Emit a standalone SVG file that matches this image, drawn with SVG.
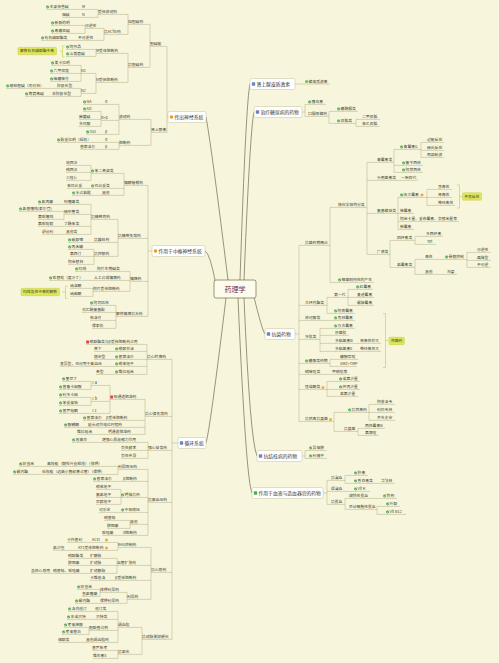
<svg xmlns="http://www.w3.org/2000/svg" width="499" height="663" viewBox="0 0 499 663">
<style>
.t{font-family:"Noto Sans CJK SC","Noto Sans",sans-serif;font-size:3.8px;fill:#3d3d2e}
.m{font-family:"Noto Sans CJK SC","Noto Sans",sans-serif;font-size:4.8px;fill:#333}
.ct{font-family:"Noto Sans CJK SC","Noto Sans",sans-serif;font-size:7px;fill:#6a2c5e}
.c{fill:none;stroke:#a9a37c;stroke-width:0.45}
.mc{fill:none;stroke:#6e6a4e;stroke-width:0.7}
.box{fill:#fff;stroke:#c4bf9f;stroke-width:0.5}
.sum{fill:#dfe85a;stroke:#b9c23a;stroke-width:0.4}
.br{fill:none;stroke:#c5cc3c;stroke-width:0.6}
</style>
<defs>
<g id="ck"><circle r="1.45" fill="#46a84f"/><path d="M-0.75 0 L-0.2 0.55 L0.75 -0.55" fill="none" stroke="#fff" stroke-width="0.45"/></g>
<rect id="rd" x="-1.4" y="-1.4" width="2.8" height="2.8" rx="0.5" fill="#e0453a"/>
<rect id="om" x="-1.3" y="-1.3" width="2.6" height="2.6" rx="0.5" fill="#f0a830"/>
<rect id="bq" x="-1.7" y="-1.7" width="3.4" height="3.4" rx="0.6" fill="#6d83c8"/>
<circle id="oc" r="1.8" fill="#f39c12"/>
</defs>
<rect width="499" height="663" fill="#f7f6dc"/>

<g id="connectors">
<path class="mc" d="M228 280 Q212 150 206 117 M216 285 Q210 253 205 251 M226 298 Q210 430 206 443 M240 280 Q246 100 250 84 M244 280 Q250 130 254 112 M254 297 Q262 330 265 334 M244 298 Q250 440 257 456 M238 298 Q246 480 252 493"/>
<!-- section 1 -->
<path class="c" d="M167 46.4 V132.4 M150 46.4 H167 M151 132.4 H167 M167 117 H168"/>
<path class="c" d="M150 24.4 V67.4 M128 24.4 H150 M128 67.4 H150"/>
<path class="c" d="M128 14.4 V34.4 M98 14.4 H128 M104 34.4 H128"/>
<path class="c" d="M98 9.4 V17.4 M82 9.4 H98 M82 17.4 H98 M46 9.4 H82 M62 17.4 H82"/>
<path class="c" d="M104 28.4 V40.4 M85 28.4 H104 M78 40.4 H104"/>
<path class="c" d="M85 25.4 V33.4 M51 25.4 H85 M51 33.4 H85 M41 40.4 H78"/>
<path class="c" d="M128 53.4 V82.4 M96 53.4 H128 M96 82.4 H128"/>
<path class="c" d="M96 49.4 V56.4 M66 49.4 H96 M66 56.4 H96"/>
<path class="c" d="M96 73.4 V93.4 M81 73.4 H96 M81 93.4 H96"/>
<path class="c" d="M81 65.4 V81.4 M51 65.4 H81 M50 73.4 H81 M50 81.4 H81"/>
<path class="c" d="M81 88.4 V96.4 M57 88.4 H81 M52 96.4 H81 M6 88.4 H57 M25 96.4 H52"/>
<path class="c" d="M151 119.4 V145.4 M119 119.4 H151 M119 145.4 H151"/>
<path class="c" d="M119 104.4 V134.4 M105 104.4 H119 M101 120.4 H119 M105 134.4 H119 M83 104.4 H105 M86 134.4 H105"/>
<path class="c" d="M101 111.4 V126.4 M83 111.4 H101 M79 119.4 H101 M79 126.4 H101"/>
<path class="c" d="M119 142.4 V149.4 M105 142.4 H119 M105 149.4 H119 M57 142.4 H105 M80 149.4 H105"/>
<path class="br" d="M64.5 46 H62.5 V57 H64.5 M62.5 51.2 H60"/>
<!-- section 2 -->
<path class="c" d="M148 185.4 V316.4 M124 185.4 H148 M118 238.4 H148 M130 281.4 H148 M116 316.4 H148 M148 251 H152"/>
<path class="c" d="M124 173.4 V195.4 M91 173.4 H124 M91 188.4 H124 M102 195.4 H124"/>
<path class="c" d="M91 165.4 V180.4 M66 165.4 H91 M66 172.4 H91 M66 180.4 H91 M67 188.4 H91 M72 195.4 H102"/>
<path class="c" d="M118 219.4 V256.4 M91 219.4 H118 M94 242.4 H118 M94 256.4 H118"/>
<path class="c" d="M91 204.4 V234.4 M64 204.4 H91 M64 214.4 H91 M64 226.4 H91 M66 234.4 H91"/>
<path class="c" d="M38 204.4 H64 M64 211.4 V219.4 M19 211.4 H64 M38 219.4 H64 M38 226.4 H64 M42 234.4 H66"/>
<path class="c" d="M68 242.4 H94 M94 249.4 V264.4 M68 249.4 H94 M70 256.4 H94 M68 264.4 H94"/>
<path class="c" d="M130 271.4 V291.4 M97 271.4 H130 M94 280.4 H130 M93 291.4 H130 M75 271.4 H97 M49 280.4 H94"/>
<path class="c" d="M93 288.4 V296.4 M70 288.4 H93 M70 296.4 H93"/>
<path class="br" d="M67.5 286 H65.5 V298.5 H67.5 M65.5 292 H62"/>
<path class="c" d="M116 305.4 V328.4 M90 305.4 H116 M82 312.4 H116 M90 320.4 H116 M92 328.4 H116"/>
<!-- section 3 -->
<path class="c" d="M172 359.4 V639.4 M147 359.4 H172 M145 416.4 H172 M148 450.4 H172 M148 502.4 H172 M151 572.4 H172 M142 639.4 H172 M172 443 H178"/>
<path class="c" d="M147 344.4 V374.4 M86 344.4 H147 M115 351.4 H147 M115 359.4 H147 M115 366.4 H147 M115 374.4 H147"/>
<path class="c" d="M94 351.4 H115 M94 359.4 H115 M60 366.4 H115 M96 374.4 H115"/>
<path class="c" d="M145 399.4 V434.4 M110 399.4 H145 M106 420.4 H145 M88 427.4 H145 M108 434.4 H145"/>
<path class="c" d="M110 385.4 V413.4 M91 385.4 H110 M91 401.4 H110 M91 413.4 H110"/>
<path class="c" d="M91 381.4 V389.4 M62 381.4 H91 M59 389.4 H91 M91 397.4 V405.4 M59 397.4 H91 M59 405.4 H91 M59 413.4 H91"/>
<path class="c" d="M83 420.4 H106 M64 427.4 H88 M77 434.4 H108"/>
<path class="c" d="M148 442.4 V458.4 M102 442.4 H148 M121 450.4 H148 M121 458.4 H148 M72 442.4 H102"/>
<path class="c" d="M148 469.4 V535.4 M118 469.4 H148 M123 481.4 H148 M121 497.4 H148 M121 512.4 H148 M130 524.4 H148 M123 535.4 H148"/>
<path class="c" d="M118 466.4 V474.4 M47 466.4 H118 M42 474.4 H118 M19 466.4 H47 M13 474.4 H42"/>
<path class="c" d="M93 481.4 H123 M121 489.4 V504.4 M96 489.4 H121 M96 497.4 H121 M96 504.4 H121 M99 512.4 H121"/>
<path class="c" d="M130 520.4 V528.4 M104 520.4 H130 M107 528.4 H130 M102 535.4 H123"/>
<path class="c" d="M151 547.4 V599.4 M118 547.4 H151 M117 565.4 H151 M115 580.4 H151 M127 599.4 H151"/>
<path class="c" d="M118 542.4 V550.4 M92 542.4 H118 M78 550.4 H118 M67 542.4 H92 M53 550.4 H78"/>
<path class="c" d="M117 558.4 V573.4 M90 558.4 H117 M90 565.4 H117 M90 573.4 H117 M68 558.4 H90 M68 565.4 H90 M53 573.4 H90 M31 573.4 H53"/>
<path class="c" d="M90 580.4 H115"/>
<path class="c" d="M127 592.4 V603.4 M100 592.4 H127 M100 603.4 H127 M100 589.4 V596.4 M77 589.4 H100 M82 596.4 H100 M75 603.4 H100"/>
<path class="c" d="M142 627.4 V654.4 M118 627.4 H142 M118 654.4 H142"/>
<path class="c" d="M118 611.4 V642.4 M95 611.4 H118 M96 619.4 H118 M89 630.4 H118 M86 642.4 H118"/>
<path class="c" d="M68 611.4 H95 M67 619.4 H96 M89 627.4 V634.4 M64 627.4 H89 M62 634.4 H89 M58 642.4 H86"/>
<path class="c" d="M118 650.4 V658.4 M92 650.4 H118 M93 658.4 H118"/>
<!-- right side -->
<path class="c" d="M295 84 H330"/>
<path class="c" d="M302 112 H305 M305 104.4 V116.4 M305 104.4 H326 M305 116.4 H329"/>
<path class="c" d="M329 111.4 V123.4 M329 111.4 H358 M329 123.4 H356 M356 119.4 V126.4 M356 119.4 H380 M356 126.4 H380"/>
<path class="c" d="M295 334 H299 M299 245.4 V421.4 M299 245.4 H330 M299 305.4 H327 M299 320.4 H323 M299 339.4 H320 M299 363.4 H330 M299 374.4 H323 M299 389.4 H327 M299 421.4 H334"/>
<path class="c" d="M330 207.4 V282.4 M330 207.4 H367 M330 282.4 H374"/>
<path class="c" d="M367 162.4 V254.4 M367 162.4 H394 M367 180.4 H398 M367 213.4 H398 M367 254.4 H390"/>
<path class="c" d="M394 149.4 V172.4 M394 149.4 H421 M394 165.4 H423 M394 172.4 H423"/>
<path class="c" d="M421 142.4 V157.4 M421 142.4 H444 M421 150.4 H444 M421 157.4 H444"/>
<path class="c" d="M398 180.4 H418"/>
<path class="c" d="M398 197.4 V229.4 M398 197.4 H427 M398 213.4 H414 M398 221.4 H459 M398 229.4 H414"/>
<path class="c" d="M427 189.4 V205.4 M427 189.4 H452 M427 197.4 H452 M427 205.4 H455"/>
<path class="br" d="M457 185 H459.5 V208 H457 M459.5 196.5 H462"/>
<path class="c" d="M390 240.4 V267.4 M390 240.4 H415 M390 267.4 H415"/>
<path class="c" d="M415 236.4 V244.4 M415 236.4 H443 M415 244.4 H436"/>
<path class="c" d="M415 259.4 V274.4 M415 259.4 H436 M415 274.4 H436 M436 259.4 H467 M436 274.4 H457"/>
<path class="c" d="M467 252.4 V267.4 M467 252.4 H491 M467 260.4 H491 M467 267.4 H491"/>
<path class="c" d="M327 297.4 V313.4 M327 297.4 H348 M327 313.4 H355"/>
<path class="c" d="M348 289.4 V305.4 M348 289.4 H373 M348 297.4 H374 M348 305.4 H374"/>
<path class="c" d="M323 320.4 H355"/>
<path class="c" d="M320 328.4 V351.4 M320 328.4 H355 M320 335.4 H349 M320 343.4 H355 M320 351.4 H355 M355 343.4 H381 M355 351.4 H381"/>
<path class="br" d="M383 313.5 H385.5 V367.5 H383 M385.5 340.5 H388.5"/>
<path class="c" d="M330 359.4 V366.4 M330 359.4 H358 M330 366.4 H357"/>
<path class="c" d="M323 374.4 H350"/>
<path class="c" d="M327 381.4 V396.4 M327 381.4 H360 M327 389.4 H360 M327 396.4 H358"/>
<path class="c" d="M334 412.4 V431.4 M334 412.4 H369 M334 431.4 H358"/>
<path class="c" d="M369 404.4 V420.4 M369 404.4 H395 M369 412.4 H395 M369 420.4 H395"/>
<path class="c" d="M358 428.4 V435.4 M358 428.4 H385 M358 435.4 H379"/>
<path class="c" d="M302 456 H305 M305 450.4 V458.4 M305 450.4 H327 M305 458.4 H327"/>
<path class="c" d="M323 493 H327 M327 480.4 V504.4 M327 480.4 H345 M327 491.4 H345 M327 504.4 H345"/>
<path class="c" d="M345 475.4 V483.4 M345 475.4 H368 M345 483.4 H375 M375 483.4 H395 M345 491.4 H370"/>
<path class="c" d="M345 498.4 V509.4 M345 498.4 H372 M345 509.4 H377 M372 498.4 H397"/>
<path class="c" d="M377 506.4 V514.4 M377 506.4 H400 M377 514.4 H406"/>
</g>

<g id="center"><rect x="214" y="280" width="42" height="18" rx="2" fill="#fdfcea" stroke="#6e6a4e" stroke-width="0.7"/><text class="ct" x="235" y="291.5" text-anchor="middle">药理学</text></g>

<!-- main nodes -->
<g id="s1"><rect class="box" x="168" y="111.5" width="38" height="11" rx="1.5"/><use href="#oc" x="171.5" y="117"/><text class="m" x="174.5" y="118.7">传出神经系统</text></g>
<g id="s2"><rect class="box" x="152" y="245.5" width="53" height="11" rx="1.5"/><use href="#oc" x="155.5" y="251"/><text class="m" x="158.5" y="252.7">作用于中枢神经系统</text></g>
<g id="s3"><rect class="box" x="178" y="437.5" width="28" height="11" rx="1.5"/><use href="#bq" x="181.5" y="443"/><text class="m" x="184.5" y="444.7">循环系统</text></g>
<g id="r1"><rect class="box" x="250" y="78.5" width="45" height="11" rx="1.5"/><use href="#bq" x="253.5" y="84"/><text class="m" x="256.5" y="85.7">肾上腺皮质激素</text></g>
<g id="r2"><rect class="box" x="254" y="106.5" width="48" height="11" rx="1.5"/><use href="#bq" x="257.5" y="112"/><text class="m" x="260.5" y="113.7">治疗糖尿病的药物</text></g>
<g id="r3"><rect class="box" x="265" y="328.5" width="30" height="11" rx="1.5"/><use href="#bq" x="268.5" y="334"/><text class="m" x="271.5" y="335.7">抗菌药物</text></g>
<g id="r4"><rect class="box" x="257" y="450.5" width="45" height="11" rx="1.5"/><use href="#bq" x="260.5" y="456"/><text class="m" x="263.5" y="457.7">抗结核病的药物</text></g>
<g id="r5"><rect class="box" x="252" y="487.5" width="71" height="11" rx="1.5"/><rect x="253.8" y="491.3" width="3.4" height="3.4" rx="0.6" fill="#4caf50"/><text class="m" x="258.5" y="494.7">作用于血液与造血器官的药物</text></g>

<!-- section 1 nodes -->
<g id="a1"><text class="t" x="150" y="45.3">胆碱能</text></g>
<g id="a2"><text class="t" x="151" y="131.3">肾上腺素</text></g>
<g id="a11"><text class="t" x="128" y="23.3">拟胆碱药</text></g>
<g id="a12"><text class="t" x="128" y="66.3">抗胆碱药</text></g>
<g id="a111"><text class="t" x="98" y="13.3">受体激动药</text></g>
<g id="a112"><text class="t" x="104" y="33.3">抗AChE药</text></g>
<g id="a1111"><text class="t" x="82" y="8.3">M</text></g>
<g id="a1112"><text class="t" x="82" y="16.3">N</text></g>
<g id="a11111"><use href="#ck" x="47.6" y="7"/><text class="t" x="49.6" y="8.3">毛果芸香碱</text></g>
<g id="a11121"><text class="t" x="62" y="16.3">烟碱</text></g>
<g id="a1121"><text class="t" x="85" y="27.3">可逆性</text></g>
<g id="a1122"><text class="t" x="78" y="39.3">不可逆性</text></g>
<g id="a11211"><use href="#ck" x="52.6" y="23"/><text class="t" x="54.6" y="24.3">新斯的明</text></g>
<g id="a11212"><use href="#ck" x="52.6" y="31"/><text class="t" x="54.6" y="32.3">毒扁豆碱</text></g>
<g id="a11221"><use href="#ck" x="42.6" y="38"/><text class="t" x="44.6" y="39.3">有机磷酸酯类</text></g>
<g id="a121"><text class="t" x="96" y="52.3">M受体阻断药</text></g>
<g id="a122"><text class="t" x="96" y="81.3">N受体阻断药</text></g>
<g id="a1211"><use href="#ck" x="67.6" y="47"/><text class="t" x="69.6" y="48.3">阿托品</text></g>
<g id="a1212"><use href="#ck" x="67.6" y="54"/><text class="t" x="69.6" y="55.3">山莨菪碱</text></g>
<g id="sum1"><rect class="sum" x="18" y="47.4" width="38.5" height="7.4" rx="1"/><text class="t" x="20" y="52.4">解救有机磷酸酯中毒</text></g>
<g id="a1221"><text class="t" x="81" y="72.3">N1</text></g>
<g id="a1222"><text class="t" x="81" y="92.3">N2</text></g>
<g id="a12211"><use href="#ck" x="52.6" y="63"/><text class="t" x="54.6" y="64.3">美卡拉明</text></g>
<g id="a12212"><use href="#ck" x="51.6" y="71"/><text class="t" x="53.6" y="72.3">六甲双铵</text></g>
<g id="a12213"><use href="#ck" x="51.6" y="79"/><text class="t" x="53.6" y="80.3">樟磺咪芬</text></g>
<g id="a12221"><text class="t" x="57" y="87.3">除极化型</text></g>
<g id="a12222"><text class="t" x="52" y="95.3">非除极化型</text></g>
<g id="a122211"><use href="#ck" x="7.6" y="86"/><text class="t" x="9.6" y="87.3">琥珀胆碱（司可林）</text></g>
<g id="a122221"><use href="#ck" x="26.6" y="94"/><text class="t" x="28.6" y="95.3">筒箭毒碱</text></g>
<g id="a21"><text class="t" x="119" y="118.3">激动药</text></g>
<g id="a22"><text class="t" x="119" y="144.3">阻断药</text></g>
<g id="a211"><text class="t" x="105" y="103.3">α</text></g>
<g id="a212"><text class="t" x="101" y="119.3">α+β</text></g>
<g id="a213"><text class="t" x="105" y="133.3">β</text></g>
<g id="a2111"><use href="#ck" x="84.6" y="102"/><text class="t" x="86.6" y="103.3">NA</text></g>
<g id="a2121"><use href="#ck" x="84.6" y="109"/><text class="t" x="86.6" y="110.3">AD</text></g>
<g id="a2122"><text class="t" x="79" y="118.3">麻黄碱</text></g>
<g id="a2123"><text class="t" x="79" y="125.3">多巴胺</text></g>
<g id="a2131"><use href="#ck" x="87.6" y="132"/><text class="t" x="89.6" y="133.3">ISO</text></g>
<g id="a221"><text class="t" x="105" y="141.3">α</text></g>
<g id="a222"><text class="t" x="105" y="148.3">β</text></g>
<g id="a2211"><use href="#ck" x="58.6" y="140"/><text class="t" x="60.6" y="141.3">酚妥拉明（短效）</text></g>
<g id="a2221"><text class="t" x="80" y="148.3">普萘洛尔</text></g>

<!-- section 2 nodes -->
<g id="b1"><text class="t" x="124" y="184.3">镇静催眠药</text></g>
<g id="b2"><text class="t" x="118" y="237.3">抗精神失常药</text></g>
<g id="b3"><text class="t" x="130" y="280.3">镇痛药</text></g>
<g id="b4"><text class="t" x="116" y="315.3">解热镇痛抗炎药</text></g>
<g id="b11"><use href="#ck" x="92.6" y="171"/><text class="t" x="94.6" y="172.3">苯二氮卓类</text></g>
<g id="b12"><use href="#ck" x="92.6" y="186"/><text class="t" x="94.6" y="187.3">巴比妥类</text></g>
<g id="b13"><text class="t" x="102" y="194.3">其他</text></g>
<g id="b111"><text class="t" x="66" y="164.3">地西泮</text></g>
<g id="b112"><text class="t" x="66" y="171.3">硝西泮</text></g>
<g id="b113"><text class="t" x="66" y="179.3">三唑仑</text></g>
<g id="b121"><text class="t" x="67" y="187.3">苯巴比妥</text></g>
<g id="b131"><use href="#ck" x="73.6" y="193"/><text class="t" x="75.6" y="194.3">水合氯醛</text></g>
<g id="b21"><text class="t" x="91" y="218.3">抗精神病药</text></g>
<g id="b22"><text class="t" x="94" y="241.3">抗躁狂药</text></g>
<g id="b23"><text class="t" x="94" y="255.3">抗抑郁药</text></g>
<g id="b211"><text class="t" x="64" y="203.3">吩噻嗪类</text></g>
<g id="b212"><text class="t" x="64" y="213.3">硫杂蒽类</text></g>
<g id="b213"><text class="t" x="64" y="225.3">丁酰苯类</text></g>
<g id="b214"><text class="t" x="66" y="233.3">其他类</text></g>
<g id="b2111"><use href="#ck" x="39.6" y="202"/><text class="t" x="41.6" y="203.3">氯丙嗪</text></g>
<g id="b2121"><use href="#ck" x="20.6" y="209"/><text class="t" x="22.6" y="210.3">氯普噻吨(泰尔登)</text></g>
<g id="b2122"><text class="t" x="38" y="218.3">氟哌噻吨</text></g>
<g id="b2131"><text class="t" x="38" y="225.3">氟哌啶醇</text></g>
<g id="b2141"><text class="t" x="42" y="233.3">舒必利</text></g>
<g id="b221"><use href="#ck" x="69.6" y="240"/><text class="t" x="71.6" y="241.3">碳酸锂</text></g>
<g id="b231"><use href="#ck" x="69.6" y="247"/><text class="t" x="71.6" y="248.3">丙米嗪</text></g>
<g id="b232"><text class="t" x="70" y="255.3">氟西汀</text></g>
<g id="b233"><text class="t" x="68" y="263.3">阿米替林</text></g>
<g id="b31"><text class="t" x="97" y="270.3">阿片生物碱类</text></g>
<g id="b32"><text class="t" x="94" y="279.3">人工合成镇痛药</text></g>
<g id="b33"><text class="t" x="93" y="290.3">阿片受体阻断药</text></g>
<g id="b311"><use href="#ck" x="76.6" y="269"/><text class="t" x="78.6" y="270.3">吗啡</text></g>
<g id="b321"><use href="#ck" x="50.6" y="278"/><text class="t" x="52.6" y="279.3">哌替啶（度冷丁）</text></g>
<g id="b331"><text class="t" x="70" y="287.3">纳洛酮</text></g>
<g id="b332"><text class="t" x="70" y="295.3">纳曲酮</text></g>
<g id="sum2"><rect class="sum" x="21" y="288.3" width="38.5" height="7.4" rx="1"/><text class="t" x="23" y="293.3">吗啡急性中毒的解救</text></g>
<g id="b41"><use href="#ck" x="91.6" y="303"/><text class="t" x="93.6" y="304.3">阿司匹林</text></g>
<g id="b42"><text class="t" x="82" y="311.3">对乙酰氨基酚</text></g>
<g id="b43"><text class="t" x="90" y="319.3">布洛芬</text></g>
<g id="b44"><text class="t" x="92" y="327.3">保泰松</text></g>

<!-- section 3 nodes -->
<g id="c1"><text class="t" x="147" y="358.3">抗心绞痛药</text></g>
<g id="c2"><text class="t" x="145" y="415.3">抗心律失常药</text></g>
<g id="c3"><text class="t" x="148" y="449.3">强心苷类药</text></g>
<g id="c4"><text class="t" x="148" y="501.3">抗高血压药</text></g>
<g id="c5"><text class="t" x="151" y="571.3">抗心衰药</text></g>
<g id="c6"><text class="t" x="142" y="638.3">抗动脉粥样硬化</text></g>
<g id="c11"><use href="#rd" x="87.6" y="342"/><text class="t" x="89.6" y="343.3">硝酸酯类与β受体阻断药合用</text></g>
<g id="c12"><use href="#ck" x="116.6" y="349"/><text class="t" x="118.6" y="350.3">硝酸甘油</text></g>
<g id="c13"><use href="#ck" x="116.6" y="357"/><text class="t" x="118.6" y="358.3">普萘洛尔</text></g>
<g id="c14"><use href="#ck" x="116.6" y="364"/><text class="t" x="118.6" y="365.3">硝苯地平</text></g>
<g id="c15"><use href="#ck" x="116.6" y="372"/><text class="t" x="118.6" y="373.3">维拉帕米</text></g>
<g id="c121"><text class="t" x="94" y="350.3">舌下</text></g>
<g id="c131"><text class="t" x="94" y="358.3">稳定型</text></g>
<g id="c141"><text class="t" x="60" y="365.3">变异型，也可用于高血压</text></g>
<g id="c151"><text class="t" x="96" y="373.3">各型</text></g>
<g id="c21"><use href="#rd" x="111.6" y="397"/><text class="t" x="113.6" y="398.3">钠通道阻滞药</text></g>
<g id="c22"><text class="t" x="106" y="419.3">β受体阻断药</text></g>
<g id="c23"><text class="t" x="88" y="426.3">延长动作电位时程药</text></g>
<g id="c24"><text class="t" x="108" y="433.3">钙通道阻滞药</text></g>
<g id="c211"><text class="t" x="91" y="384.3">Ⅰa</text></g>
<g id="c212"><text class="t" x="91" y="400.3">Ⅰb</text></g>
<g id="c213"><text class="t" x="91" y="412.3">Ⅰc</text></g>
<g id="c2111"><use href="#ck" x="63.6" y="379"/><text class="t" x="65.6" y="380.3">奎尼丁</text></g>
<g id="c2112"><use href="#ck" x="60.6" y="387"/><text class="t" x="62.6" y="388.3">普鲁卡因胺</text></g>
<g id="c2121"><use href="#ck" x="60.6" y="395"/><text class="t" x="62.6" y="396.3">利多卡因</text></g>
<g id="c2122"><use href="#ck" x="60.6" y="403"/><text class="t" x="62.6" y="404.3">苯妥英钠</text></g>
<g id="c2131"><use href="#ck" x="60.6" y="411"/><text class="t" x="62.6" y="412.3">普罗帕酮</text></g>
<g id="c221"><use href="#ck" x="84.6" y="418"/><text class="t" x="86.6" y="419.3">普萘洛尔</text></g>
<g id="c231"><use href="#ck" x="65.6" y="425"/><text class="t" x="67.6" y="426.3">胺碘酮</text></g>
<g id="c241"><text class="t" x="77" y="433.3">维拉帕米</text></g>
<g id="c31"><text class="t" x="102" y="441.3">增强心肌收缩力作用</text></g>
<g id="c32"><text class="t" x="121" y="449.3">负性频率</text></g>
<g id="c33"><text class="t" x="121" y="457.3">负性传导</text></g>
<g id="c311"><use href="#ck" x="73.6" y="440"/><text class="t" x="75.6" y="441.3">地高辛</text></g>
<g id="c41"><text class="t" x="118" y="468.3">利尿降压药</text></g>
<g id="c42"><text class="t" x="123" y="480.3">β阻断药</text></g>
<g id="c43"><use href="#ck" x="122.6" y="495"/><text class="t" x="124.6" y="496.3">钙拮抗药</text></g>
<g id="c44"><use href="#ck" x="122.6" y="510"/><text class="t" x="124.6" y="511.3">中枢降压</text></g>
<g id="c45"><text class="t" x="130" y="523.3">其他</text></g>
<g id="c46"><text class="t" x="123" y="534.3">α阻断药</text></g>
<g id="c411"><text class="t" x="47" y="465.3">高效能（髓袢升支粗段）（排钾）</text></g>
<g id="c412"><text class="t" x="42" y="473.3">低效能（远曲小管和集合管）（保钾）</text></g>
<g id="c4111"><use href="#ck" x="20.6" y="464"/><text class="t" x="22.6" y="465.3">呋塞米</text></g>
<g id="c4121"><use href="#ck" x="14.6" y="472"/><text class="t" x="16.6" y="473.3">螺内酯</text></g>
<g id="c421"><use href="#ck" x="94.6" y="479"/><text class="t" x="96.6" y="480.3">普萘洛尔</text></g>
<g id="c431"><text class="t" x="96" y="488.3">硝苯地平</text></g>
<g id="c432"><text class="t" x="96" y="496.3">氨氯地平</text></g>
<g id="c433"><text class="t" x="96" y="503.3">尼群地平</text></g>
<g id="c441"><text class="t" x="99" y="511.3">可乐定</text></g>
<g id="c451"><text class="t" x="104" y="519.3">硝普钠</text></g>
<g id="c452"><text class="t" x="107" y="527.3">肼屈嗪</text></g>
<g id="c461"><text class="t" x="102" y="534.3">哌唑嗪</text></g>
<g id="c51"><text class="t" x="118" y="546.3">RAS抑制药</text></g>
<g id="c52"><text class="t" x="117" y="564.3">血管扩张药</text></g>
<g id="c53"><text class="t" x="115" y="579.3">β受体阻断药</text></g>
<g id="c54"><text class="t" x="127" y="598.3">利尿药</text></g>
<g id="c511"><text class="t" x="92" y="541.3">ACEI</text><use href="#om" x="106.5" y="540"/></g>
<g id="c512"><text class="t" x="78" y="549.3">AT1受体阻断药</text><use href="#om" x="106.5" y="548"/></g>
<g id="c5111"><text class="t" x="67" y="541.3">卡托普利</text></g>
<g id="c5121"><text class="t" x="53" y="549.3">氯沙坦</text></g>
<g id="c521"><text class="t" x="90" y="557.3">扩静脉</text></g>
<g id="c522"><text class="t" x="90" y="564.3">扩动脉</text></g>
<g id="c523"><text class="t" x="90" y="572.3">扩动静脉</text></g>
<g id="c5211"><text class="t" x="68" y="557.3">硝酸酯类</text></g>
<g id="c5221"><text class="t" x="68" y="564.3">肼屈嗪</text></g>
<g id="c5231"><text class="t" x="53" y="572.3">硝普钠、哌唑嗪</text></g>
<g id="c52311"><text class="t" x="31" y="572.3">急性心衰用</text></g>
<g id="c531"><text class="t" x="90" y="579.3">卡维地洛</text></g>
<g id="c541"><text class="t" x="100" y="591.3">排钾利尿药</text></g>
<g id="c542"><text class="t" x="100" y="602.3">保钾利尿药</text></g>
<g id="c5411"><use href="#ck" x="78.6" y="587"/><text class="t" x="80.6" y="588.3">呋塞米</text></g>
<g id="c5412"><text class="t" x="82" y="595.3">氢氯噻嗪</text></g>
<g id="c5421"><use href="#ck" x="76.6" y="601"/><text class="t" x="78.6" y="602.3">螺内酯</text></g>
<g id="c61"><text class="t" x="118" y="626.3">调血脂</text></g>
<g id="c62"><text class="t" x="118" y="653.3">抗氧化</text></g>
<g id="c611"><text class="t" x="95" y="610.3">他汀类</text></g>
<g id="c612"><text class="t" x="96" y="618.3">贝特类</text></g>
<g id="c613"><text class="t" x="89" y="629.3">胆酸螯合剂</text></g>
<g id="c614"><text class="t" x="86" y="641.3">其他调血脂药</text></g>
<g id="c6111"><use href="#ck" x="69.6" y="609"/><text class="t" x="71.6" y="610.3">洛伐他汀</text></g>
<g id="c6121"><use href="#ck" x="68.6" y="617"/><text class="t" x="70.6" y="618.3">非诺贝特</text></g>
<g id="c6131"><use href="#ck" x="65.6" y="625"/><text class="t" x="67.6" y="626.3">考来烯胺</text></g>
<g id="c6132"><use href="#ck" x="63.6" y="632"/><text class="t" x="65.6" y="633.3">考来替泊</text></g>
<g id="c6141"><text class="t" x="58" y="641.3">烟酸类</text></g>
<g id="c621"><text class="t" x="92" y="649.3">普罗布考</text></g>
<g id="c622"><text class="t" x="93" y="657.3">维生素E</text></g>

<!-- right side nodes -->
<g id="r11"><use href="#ck" x="306.6" y="81.6"/><text class="t" x="308.6" y="82.9">糖皮质激素</text></g>
<g id="r21"><use href="#ck" x="309.6" y="102"/><text class="t" x="311.6" y="103.3">胰岛素</text></g>
<g id="r22"><text class="t" x="308" y="115.3">口服降糖药</text></g>
<g id="r221"><use href="#ck" x="338.6" y="109"/><text class="t" x="340.6" y="110.3">磺酰脲类</text></g>
<g id="r222"><use href="#ck" x="338.6" y="121"/><text class="t" x="340.6" y="122.3">双胍类</text></g>
<g id="r2221"><text class="t" x="362" y="118.3">二甲双胍</text></g>
<g id="r2222"><text class="t" x="362" y="125.3">苯乙双胍</text></g>
<g id="k1"><text class="t" x="305" y="244.3">抗菌药物概论</text></g>
<g id="k2"><text class="t" x="305" y="304.3">大环内酯类</text></g>
<g id="k3"><text class="t" x="305" y="319.3">林可胺类</text></g>
<g id="k4"><text class="t" x="305" y="338.3">多肽类</text></g>
<g id="k5"><use href="#ck" x="306.6" y="361"/><text class="t" x="308.6" y="362.3">磺胺类药物</text></g>
<g id="k6"><text class="t" x="305" y="373.3">硝咪唑类</text></g>
<g id="k7"><text class="t" x="305" y="388.3">喹诺酮类</text><use href="#om" x="323" y="387.5"/></g>
<g id="k8"><text class="t" x="305" y="420.3">抗病毒抗真菌</text><use href="#om" x="330.5" y="419.5"/></g>
<g id="k11"><text class="t" x="338" y="206.3">按化学结构分类</text></g>
<g id="k12"><use href="#ck" x="339.6" y="280"/><text class="t" x="341.6" y="281.3">细菌耐药性的产生</text></g>
<g id="k111"><text class="t" x="377" y="161.3">青霉素类</text></g>
<g id="k112"><text class="t" x="377" y="179.3">头孢菌素类</text></g>
<g id="k113"><text class="t" x="377" y="212.3">氨基糖苷类</text></g>
<g id="k114"><text class="t" x="377" y="253.3">广谱类</text></g>
<g id="k1111"><use href="#ck" x="401.6" y="147"/><text class="t" x="403.6" y="148.3">青霉素G</text></g>
<g id="k1112"><use href="#ck" x="403.6" y="163"/><text class="t" x="405.6" y="164.3">氨苄西林</text></g>
<g id="k1113"><use href="#ck" x="403.6" y="170"/><text class="t" x="405.6" y="171.3">阿莫西林</text></g>
<g id="k11111"><text class="t" x="427" y="141.3">过敏反应</text></g>
<g id="k11112"><text class="t" x="427" y="149.3">赫氏反应</text></g>
<g id="k11113"><text class="t" x="427" y="156.3">局部刺激</text></g>
<g id="k1121"><text class="t" x="401" y="179.3">一至四代</text></g>
<g id="k1131"><use href="#ck" x="401.6" y="195"/><text class="t" x="403.6" y="196.3">庆大霉素</text><use href="#om" x="422" y="195"/></g>
<g id="k1132"><text class="t" x="400" y="212.3">链霉素</text></g>
<g id="k1133"><text class="t" x="400" y="220.3">阿米卡星、妥布霉素、奈替米星等</text></g>
<g id="k1134"><text class="t" x="400" y="228.3">新霉素</text></g>
<g id="k11311"><text class="t" x="438" y="188.3">耳毒性</text></g>
<g id="k11312"><text class="t" x="438" y="196.3">肾毒性</text></g>
<g id="k11313"><text class="t" x="438" y="204.3">神经毒性</text></g>
<g id="sum3"><rect class="sum" x="462.5" y="192.8" width="19" height="7.4" rx="1"/><text class="t" x="464.2" y="197.8">不良反应</text></g>
<g id="k1141"><text class="t" x="397" y="239.3">四环素类</text></g>
<g id="k1142"><text class="t" x="397" y="266.3">氯霉素类</text></g>
<g id="k11411"><text class="t" x="426" y="235.3">多西环素</text></g>
<g id="k11412"><text class="t" x="427" y="243.3">Tet</text></g>
<g id="k11421"><text class="t" x="425" y="258.3">毒性</text></g>
<g id="k11422"><text class="t" x="425" y="273.3">其他</text></g>
<g id="k114211"><use href="#ck" x="446.6" y="257"/><text class="t" x="448.6" y="258.3">骨髓抑制</text></g>
<g id="k1142111"><text class="t" x="477" y="251.3">可逆性</text></g>
<g id="k1142112"><text class="t" x="477" y="259.3">再障型</text></g>
<g id="k1142113"><text class="t" x="477" y="266.3">不可逆</text></g>
<g id="k114221"><text class="t" x="447" y="273.3">灰婴</text></g>
<g id="k21"><text class="t" x="334" y="296.3">第一代</text></g>
<g id="k22"><use href="#ck" x="335.6" y="311"/><text class="t" x="337.6" y="312.3">阿奇霉素</text></g>
<g id="k211"><use href="#ck" x="357.6" y="287"/><text class="t" x="359.6" y="288.3">红霉素</text></g>
<g id="k212"><text class="t" x="357" y="296.3">麦迪霉素</text></g>
<g id="k213"><text class="t" x="357" y="304.3">螺旋霉素</text></g>
<g id="k31"><use href="#ck" x="335.6" y="318"/><text class="t" x="337.6" y="319.3">克林霉素</text></g>
<g id="k41"><use href="#ck" x="335.6" y="326"/><text class="t" x="337.6" y="327.3">万古霉素</text></g>
<g id="k42"><text class="t" x="335" y="334.3">杆菌肽</text></g>
<g id="k43"><text class="t" x="335" y="342.3">多黏菌素B</text></g>
<g id="k44"><text class="t" x="335" y="350.3">多黏菌素E</text></g>
<g id="k431"><text class="t" x="360" y="342.3">肾毒性较大</text></g>
<g id="k441"><text class="t" x="360" y="350.3">神经毒性大</text></g>
<g id="sum4"><rect class="sum" x="389" y="337.3" width="15.4" height="7.4" rx="1"/><text class="t" x="391" y="342.3">抑菌药</text></g>
<g id="k51"><text class="t" x="340" y="358.3">磺胺嘧啶</text></g>
<g id="k52"><text class="t" x="340" y="365.3">SMZ+TMP</text></g>
<g id="k61"><text class="t" x="332" y="373.3">甲硝唑等</text></g>
<g id="k71"><use href="#ck" x="340.6" y="379"/><text class="t" x="342.6" y="380.3">诺氟沙星</text></g>
<g id="k72"><use href="#ck" x="340.6" y="387"/><text class="t" x="342.6" y="388.3">环丙沙星</text></g>
<g id="k73"><text class="t" x="340" y="395.3">氧氟沙星</text></g>
<g id="k81"><use href="#ck" x="349.6" y="410"/><text class="t" x="351.6" y="411.3">抗病毒药</text></g>
<g id="k82"><text class="t" x="344" y="430.3">抗真菌</text></g>
<g id="k811"><text class="t" x="377" y="403.3">阿昔洛韦</text></g>
<g id="k812"><text class="t" x="377" y="411.3">利巴韦林</text></g>
<g id="k813"><text class="t" x="377" y="419.3">齐多夫定</text></g>
<g id="k821"><text class="t" x="365" y="427.3">两性霉素B</text></g>
<g id="k822"><text class="t" x="365" y="434.3">氟康唑</text></g>
<g id="t1"><use href="#ck" x="310.6" y="448"/><text class="t" x="312.6" y="449.3">异烟肼</text></g>
<g id="t2"><use href="#ck" x="310.6" y="456"/><text class="t" x="312.6" y="457.3">利福平</text></g>
<g id="h1"><text class="t" x="331" y="479.3">抗凝血</text></g>
<g id="h2"><text class="t" x="331" y="490.3">促凝血</text></g>
<g id="h3"><text class="t" x="331" y="503.3">抗贫血</text></g>
<g id="h11"><use href="#ck" x="355.6" y="473"/><text class="t" x="357.6" y="474.3">肝素</text></g>
<g id="h12"><use href="#ck" x="355.6" y="481"/><text class="t" x="357.6" y="482.3">香豆素类</text></g>
<g id="h121"><text class="t" x="381" y="482.3">华法林</text></g>
<g id="h21"><use href="#ck" x="355.6" y="489"/><text class="t" x="357.6" y="490.3">Vit K</text></g>
<g id="h31"><text class="t" x="349" y="497.3">缺铁性贫血</text></g>
<g id="h32"><text class="t" x="349" y="508.3">巨幼细胞性贫血</text></g>
<g id="h311"><use href="#ck" x="384.6" y="496"/><text class="t" x="386.6" y="497.3">铁剂</text></g>
<g id="h321"><use href="#ck" x="387.6" y="504"/><text class="t" x="389.6" y="505.3">叶酸</text></g>
<g id="h322"><use href="#ck" x="387.6" y="512"/><text class="t" x="389.6" y="513.3">Vit B12</text></g>
</svg>
